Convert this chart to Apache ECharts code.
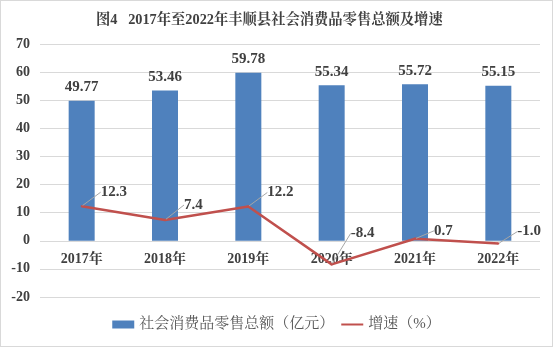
<!DOCTYPE html>
<html><head><meta charset="utf-8">
<script src="https://cdn.jsdelivr.net/npm/echarts@6/dist/echarts.min.js"></script>
<style>
html,body{margin:0;padding:0;background:#fff;}
#c{width:553px;height:347px;box-sizing:border-box;border:1px solid #d9d9d9;}
</style></head>
<body><div id="c"></div>
<script>
const categories = ['2017年','2018年','2019年','2020年','2021年','2022年'];
const salesValues = [49.77, 53.46, 59.78, 55.34, 55.72, 55.15];
const growthValues = [12.3, 7.4, 12.2, -8.4, 0.7, -1.0];
const yTicks = {min: -20, max: 70, interval: 10};
const titleText = '图4   2017年至2022年丰顺县社会消费品零售总额及增速';
const salesName = '社会消费品零售总额（亿元）';
const growthName = '增速（%）';

const labelDy = [-14, -15, -14, -31, -8, -12];
const serif = "'Liberation Serif', 'Noto Serif CJK SC', 'Noto Sans CJK SC', serif";
const chart = echarts.init(document.getElementById('c'));
chart.setOption({
  animation: false,
  title: {
    text: titleText, left: 90, top: 7,
    textStyle: {fontFamily: serif, fontSize: 14.3, fontWeight: 'bold', color: '#404040'}
  },
  grid: {left: 39, right: 12, top: 43, bottom: 49, containLabel: false},
  legend: {
    bottom: 9, left: 'center', itemGap: 6, itemWidth: 22, itemHeight: 8,
    textStyle: {fontFamily: serif, fontSize: 15, color: '#595959'},
    data: [{name: salesName, icon: 'rect'}, {name: growthName, itemStyle: {opacity: 0}}]
  },
  xAxis: {
    type: 'category', data: categories, offset: -57,
    axisLine: {show: false, onZero: false}, axisTick: {show: false},
    axisLabel: {fontFamily: serif, fontSize: 14, fontWeight: 'bold', color: '#404040', margin: 12}
  },
  yAxis: {
    type: 'value', min: yTicks.min, max: yTicks.max, interval: yTicks.interval,
    axisLine: {show: false}, axisTick: {show: false},
    splitLine: {lineStyle: {color: '#d9d9d9', width: 1}},
    axisLabel: {fontFamily: serif, fontSize: 14, fontWeight: 'bold', color: '#404040', margin: 10}
  },
  series: [
    {
      name: salesName, type: 'bar', data: salesValues, barWidth: 26,
      itemStyle: {color: '#4f81bd'},
      label: {show: true, position: 'top', distance: 6, fontFamily: serif, fontSize: 15, fontWeight: 'bold', color: '#404040',
        formatter: p => p.value.toFixed(2)}
    },
    {
      name: growthName, type: 'line', data: growthValues,
      symbol: 'circle', symbolSize: 2, showSymbol: true,
      lineStyle: {color: '#c0504d', width: 2.5},
      itemStyle: {color: '#c0504d'},
      z: 5,
      label: {show: true, position: 'right', distance: 0, fontFamily: serif, fontSize: 15, fontWeight: 'bold', color: '#404040',
        formatter: p => p.value.toFixed(1)},
      labelLayout: p => ({dx: 18, dy: labelDy[p.dataIndex]}),
      labelLine: {show: true, lineStyle: {color: '#a6a6a6', width: 1}}
    }
  ]
});
</script></body></html>
